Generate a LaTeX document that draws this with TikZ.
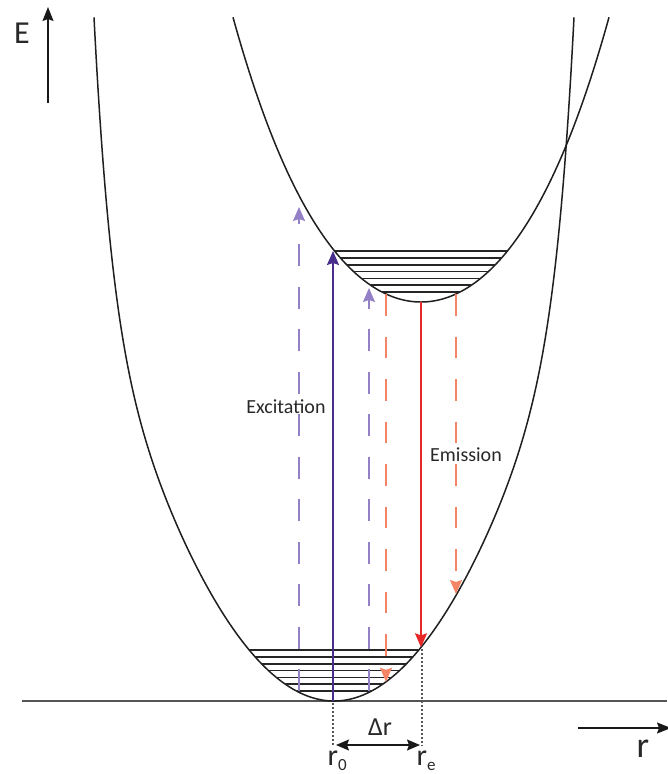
\documentclass[tikz,border=0pt]{standalone}
\usepackage{fontspec}
\setmainfont{Carlito}
\usetikzlibrary{arrows.meta}
\definecolor{lpurple}{RGB}{148,128,198}
\definecolor{dpurple}{RGB}{72,46,140}
\definecolor{lorange}{RGB}{244,132,102}
\definecolor{dred}{RGB}{232,40,40}
\definecolor{axgray}{RGB}{85,85,85}
\definecolor{txtgray}{RGB}{40,40,40}
\begin{document}
\begin{tikzpicture}[x=1pt,y=-1pt,
  declare function={
    lowu(\t)=((\t)/240)*((\t)/240);
    lowf(\t)=701-0.0071*(\t)*(\t)-275*lowu(\t)*lowu(\t)*lowu(\t)*lowu(\t)*lowu(\t)*lowu(\t)*lowu(\t);
    upu(\t)=((\t)/188)*((\t)/188);
    upf(\t)=302-0.0065*(\t)*(\t)-55*upu(\t)*upu(\t);
  },
  curve/.style={line width=1.5pt, black!88},
  level/.style={line width=1.5pt, black!85},
  dashpat/.style={dash pattern=on 21.7pt off 20.8pt},
  tipc/.style={-{Stealth[length=14pt,width=12pt,inset=2pt]}},
  axis/.style={line width=1.3pt, black!90, -{Stealth[length=14pt,width=11pt,inset=2pt]}},
  lbl/.style={inner sep=0pt, anchor=base, text=txtgray},
  dots/.style={line width=1.2pt, black!65, dash pattern=on 2pt off 2pt},
]
\useasboundingbox (0,0) rectangle (667,774);

% baseline
\coordinate (bl0) at (22,701);
\coordinate (bl1) at (667,701);
\draw[line width=1.7pt, axgray] (bl0) -- (bl1);

% potential curves
\draw[curve] plot[domain=-240:240, samples=481] ({334+\x},{lowf(\x)});
\draw[curve] plot[domain=-188:188, samples=377] ({421+\x},{upf(\x)});

% vibrational levels (lower)
\foreach \y/\d in {691/37.5, 684.2/48.6, 677.4/57.7, 670.6/65.4, 663.8/72.4, 657/78.7, 650.2/84.6}{
  \draw[level] ({334-\d},\y) -- ({334+\d},\y);
}
% vibrational levels (upper)
\foreach \y/\d in {292/39.0, 285.2/50.4, 278.4/59.5, 271.6/67.4, 264.8/74.3, 258/80.5, 251.2/86.3}{
  \draw[level] ({421-\d},\y) -- ({421+\d},\y);
}

% arrows
\coordinate (pa0) at (299,691);  \coordinate (pa1) at (299,207);
\coordinate (pb0) at (369,691);  \coordinate (pb1) at (369,288);
\coordinate (ex0) at (333,701);  \coordinate (ex1) at (333,251);
\coordinate (oc0) at (386,294);  \coordinate (oc1) at (386,681.8);
\coordinate (od0) at (456,294);  \coordinate (od1) at (456,594);
\coordinate (em0) at (421,302);  \coordinate (em1) at (421,647.3);

\draw[line width=1.4pt, lpurple, dashpat, tipc] (pa0) -- (pa1);
\draw[line width=1.4pt, lpurple, dashpat, tipc] (pb0) -- (pb1);
\draw[line width=1.6pt, dpurple, tipc] (ex0) -- (ex1);
\draw[line width=1.4pt, lorange, dashpat, tipc] (oc0) -- (oc1);
\draw[line width=1.4pt, lorange, dashpat, tipc] (od0) -- (od1);
\draw[line width=1.6pt, dred, tipc] (em0) -- (em1);

% dotted markers and delta r
\coordinate (d0a) at (333,703); \coordinate (d0b) at (333,746);
\coordinate (dea) at (422,649); \coordinate (deb) at (422,746);
\draw[dots] (d0a) -- (d0b);
\draw[dots] (dea) -- (deb);
\coordinate (dl) at (336,745); \coordinate (dr) at (420,745);
\draw[line width=1.5pt, black!90, {Stealth[length=13pt,width=11pt,inset=2pt]}-{Stealth[length=13pt,width=11pt,inset=2pt]}] (dl) -- (dr);

% axes
\coordinate (ea0) at (48,103); \coordinate (ea1) at (48,7);
\draw[axis] (ea0) -- (ea1);
\coordinate (ra0) at (578,728); \coordinate (ra1) at (671,728);
\draw[axis] (ra0) -- (ra1);

% labels
\node[lbl, font=\fontsize{32}{32}\selectfont] (Elab) at (22,43) {E};
\node[lbl, font=\fontsize{36}{36}\selectfont] (rlab) at (643,757) {r};
\node[lbl, font=\fontsize{20}{20}\selectfont] (exc) at (286,413) {Excitation};
\node[lbl, font=\fontsize{20}{20}\selectfont] (emi) at (466,461.5) {Emission};
\node[lbl, font=\fontsize{26}{26}\selectfont] (drl) at (380,735) {Δr};
\node[inner sep=0pt, anchor=base west, text=txtgray, font=\fontsize{30}{30}\selectfont] (r0) at (327.5,765.5) {r\raisebox{-4.5pt}{\fontsize{17}{17}\selectfont 0}};
\node[inner sep=0pt, anchor=base west, text=txtgray, font=\fontsize{30}{30}\selectfont] (re) at (416.5,765.5) {r\raisebox{-4.5pt}{\fontsize{17}{17}\selectfont e}};
\end{tikzpicture}
\end{document}
